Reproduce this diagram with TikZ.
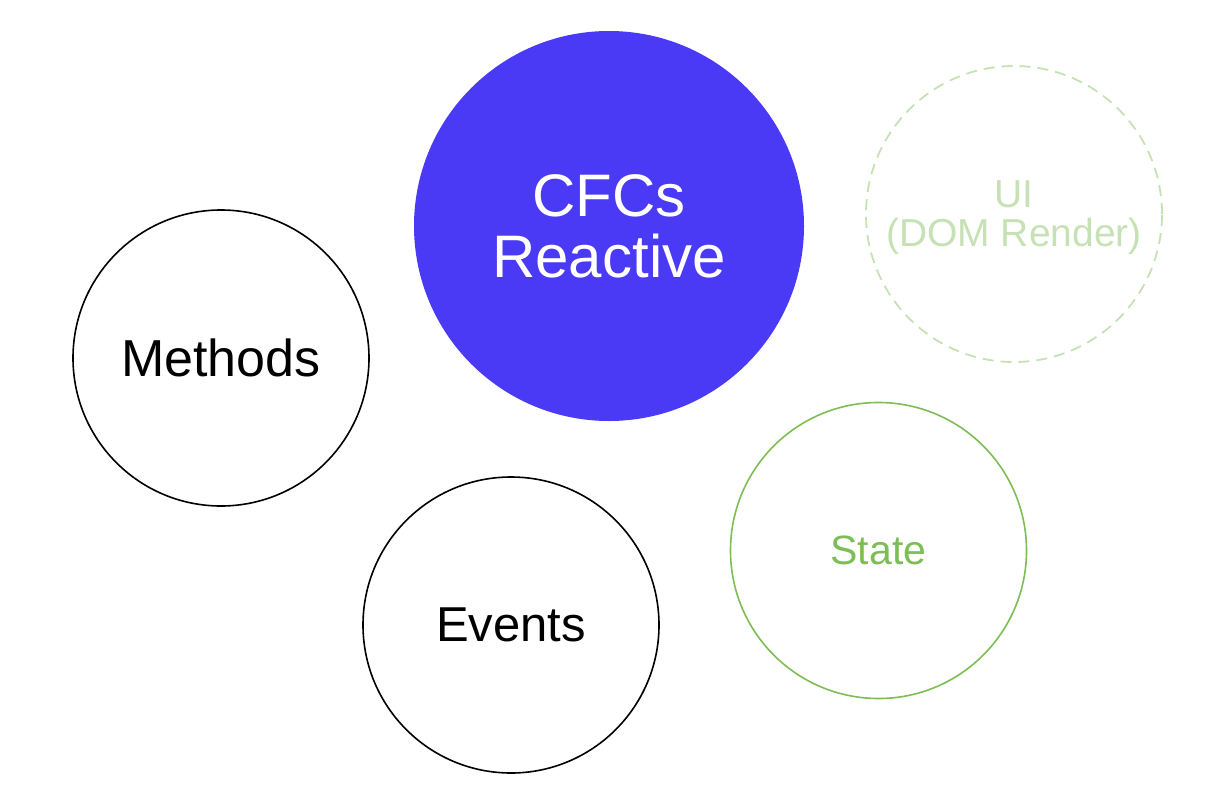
\documentclass[tikz,border=0pt]{standalone}
\usepackage{fontspec}
\setmainfont{Liberation Sans}
\definecolor{cfcblue}{HTML}{4A3AF5}
\definecolor{stategreen}{HTML}{7DBD56}
\definecolor{uigreen}{HTML}{C6E2B4}
\tikzset{
  bubble/.style={circle, inner sep=0pt, outer sep=0pt, minimum size=296pt, line width=1.6pt, align=center},
  plainbubble/.style={bubble, draw=black, text=black, font=\fontsize{50}{60}\selectfont},
}
\begin{document}
\begin{tikzpicture}[x=1pt,y=-1pt]
\useasboundingbox (0,0) rectangle (1218,806);
\node[bubble, minimum size=390pt, fill=cfcblue, text=white,
      font=\fontsize{60}{61}\selectfont] (cfc) at (609,226) {CFCs\\Reactive};
\node[bubble, draw=uigreen, line width=1.8pt, dash pattern=on 11pt off 7pt, text=uigreen,
      font=\fontsize{39}{39}\selectfont, text depth=0pt] (ui) at (1014,214) {UI\\(DOM Render)};
\node[plainbubble, font=\fontsize{52}{60}\selectfont] (methods) at (221,358) {Methods};
\node[plainbubble, font=\fontsize{49}{60}\selectfont] (events) at (511,625) {Events};
\node[bubble, draw=stategreen, text=stategreen,
      font=\fontsize{41}{50}\selectfont] (state) at (878.5,550.5) {State};
\end{tikzpicture}
\end{document}
